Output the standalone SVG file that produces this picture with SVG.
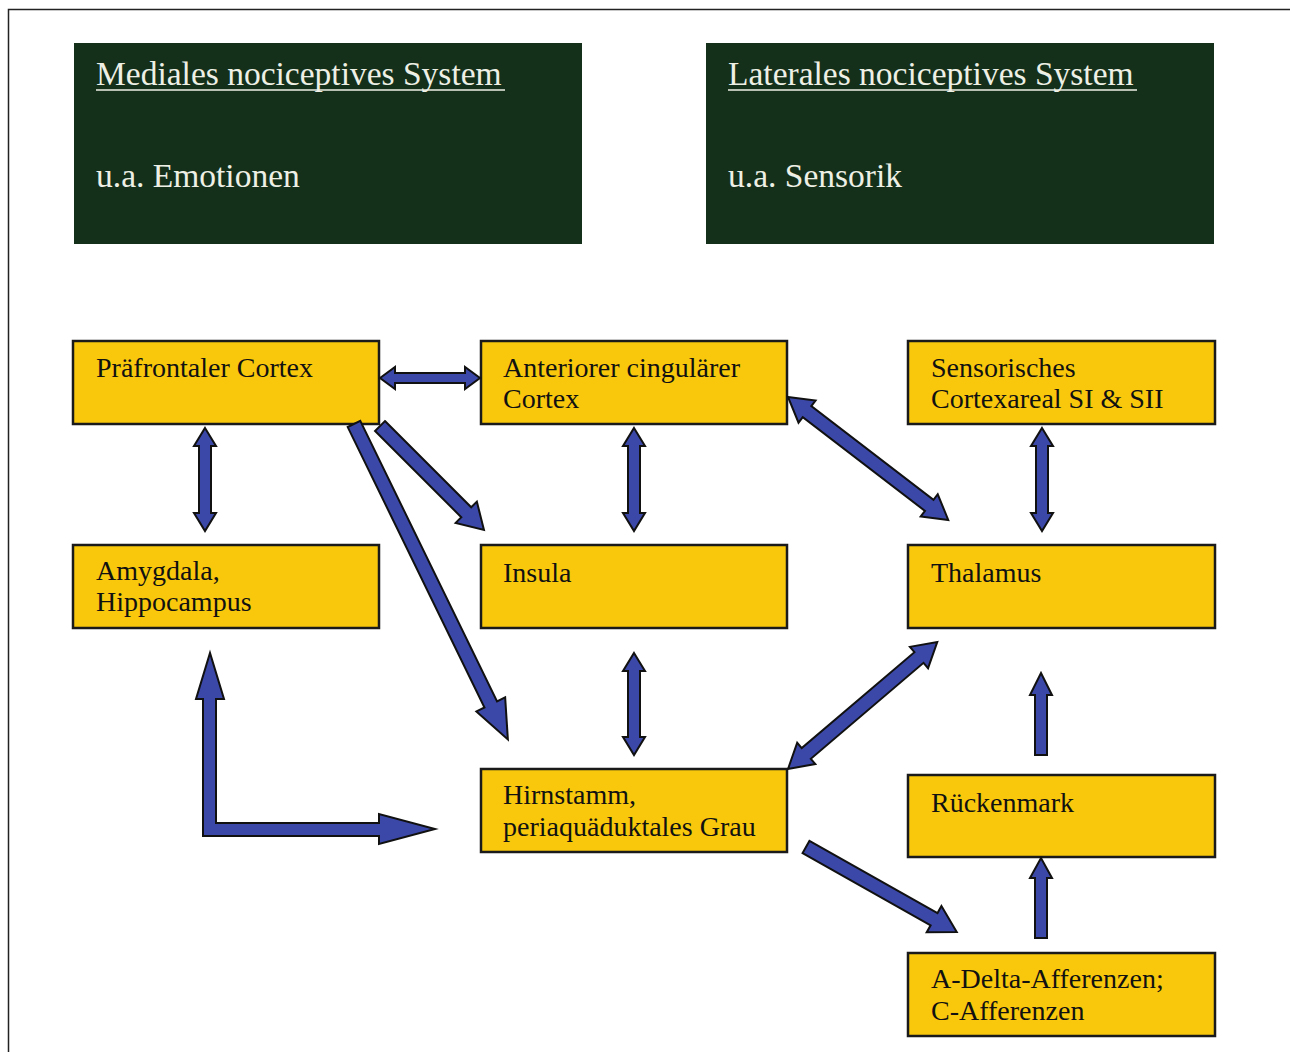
<svg xmlns="http://www.w3.org/2000/svg" width="1290" height="1052" viewBox="0 0 1290 1052">
<style>
.dark{fill:#15301a}
.dt{font-family:"Liberation Serif","Times New Roman",serif;font-size:33.5px;fill:#eef0e6}
.box{fill:#f9c80c;stroke:#1a1a1a;stroke-width:2.5}
.bt{font-family:"Liberation Serif","Times New Roman",serif;font-size:28px;fill:#111}
.arr{fill:#3b48a8;stroke:#111;stroke-width:2;stroke-linejoin:miter}
</style>
<rect x="0" y="0" width="1290" height="1052" fill="#ffffff"/>
<path d="M8.5 1052 V9.5 H1290" fill="none" stroke="#222" stroke-width="1.5"/>

<g id="medial">
<rect class="dark" x="74" y="43" width="508" height="201"/>
<text class="dt" x="96" y="85">Mediales nociceptives System</text>
<line x1="96" y1="90" x2="505" y2="90" stroke="#eef0e6" stroke-width="1.6"/>
<text class="dt" x="96" y="187">u.a. Emotionen</text>
</g>
<g id="lateral">
<rect class="dark" x="706" y="43" width="508" height="201"/>
<text class="dt" x="728" y="85">Laterales nociceptives System</text>
<line x1="728" y1="90" x2="1137" y2="90" stroke="#eef0e6" stroke-width="1.6"/>
<text class="dt" x="728" y="187">u.a. Sensorik</text>
</g>

<g id="praefrontal">
<rect class="box" x="73" y="341" width="306" height="83"/>
<text class="bt" x="96" y="377">Präfrontaler Cortex</text>
</g>
<g id="acc">
<rect class="box" x="481" y="341" width="306" height="83"/>
<text class="bt" x="503" y="377">Anteriorer cingulärer</text>
<text class="bt" x="503" y="408">Cortex</text>
</g>
<g id="sensorisch">
<rect class="box" x="908" y="341" width="307" height="83"/>
<text class="bt" x="931" y="377">Sensorisches</text>
<text class="bt" x="931" y="408">Cortexareal SI &amp; SII</text>
</g>
<g id="amygdala">
<rect class="box" x="73" y="545" width="306" height="83"/>
<text class="bt" x="96" y="580">Amygdala,</text>
<text class="bt" x="96" y="611">Hippocampus</text>
</g>
<g id="insula">
<rect class="box" x="481" y="545" width="306" height="83"/>
<text class="bt" x="503" y="582">Insula</text>
</g>
<g id="thalamus">
<rect class="box" x="908" y="545" width="307" height="83"/>
<text class="bt" x="931" y="582">Thalamus</text>
</g>
<g id="hirnstamm">
<rect class="box" x="481" y="769" width="306" height="83"/>
<text class="bt" x="503" y="804">Hirnstamm,</text>
<text class="bt" x="503" y="836">periaquäduktales Grau</text>
</g>
<g id="rueckenmark">
<rect class="box" x="908" y="775" width="307" height="82"/>
<text class="bt" x="931" y="812">Rückenmark</text>
</g>
<g id="afferenzen">
<rect class="box" x="908" y="953" width="307" height="83"/>
<text class="bt" x="931" y="988">A-Delta-Afferenzen;</text>
<text class="bt" x="931" y="1020">C-Afferenzen</text>
</g>

<g id="connectors">
<polygon class="arr" transform="translate(380,378)" points="0,0 15,-11 15,-5 85,-5 85,-11 100,0 85,11 85,5 15,5 15,11"/>
<polygon class="arr" transform="translate(205,428) rotate(90)" points="0,0 18,-11 18,-6 85,-6 85,-11 103,0 85,11 85,6 18,6 18,11"/>
<polygon class="arr" transform="translate(634,428) rotate(90)" points="0,0 18,-11 18,-6 85,-6 85,-11 103,0 85,11 85,6 18,6 18,11"/>
<polygon class="arr" transform="translate(1042,428) rotate(90)" points="0,0 18,-11 18,-6 85,-6 85,-11 103,0 85,11 85,6 18,6 18,11"/>
<polygon class="arr" transform="translate(634,653) rotate(90)" points="0,0 18,-11 18,-6 84,-6 84,-11 102,0 84,11 84,6 18,6 18,11"/>
<polygon class="arr" transform="translate(788,397) rotate(37.5)" points="0,0 24,-14 24,-7 178,-7 178,-14 202,0 178,14 178,7 24,7 24,14"/>
<polygon class="arr" transform="translate(788,769) rotate(-40.4)" points="0,0 24,-14 24,-7 172,-7 172,-14 196,0 172,14 172,7 24,7 24,14"/>
<polygon class="arr" transform="translate(380,426) rotate(45)" points="0,-7 122,-7 122,-15 147,0 122,15 122,7 0,7"/>
<polygon class="arr" transform="translate(354,424) rotate(64)" points="0,-7 312,-7 312,-16 351,0 312,16 312,7 0,7"/>
<polygon class="arr" transform="translate(806,847) rotate(29.4)" points="0,-7 147,-7 147,-15 173,0 147,15 147,7 0,7"/>
<polygon class="arr" transform="translate(1041,755) rotate(-90)" points="0,-6 60,-6 60,-11 82,0 60,11 60,6 0,6"/>
<polygon class="arr" transform="translate(1041,938) rotate(-90)" points="0,-6 60,-6 60,-11 80,0 60,11 60,6 0,6"/>
<polygon class="arr" points="203,836 203,699 196,699 210,653 224,699 216,699 216,823 379,823 379,814 435,829 379,844 379,836"/>
</g>
</svg>
